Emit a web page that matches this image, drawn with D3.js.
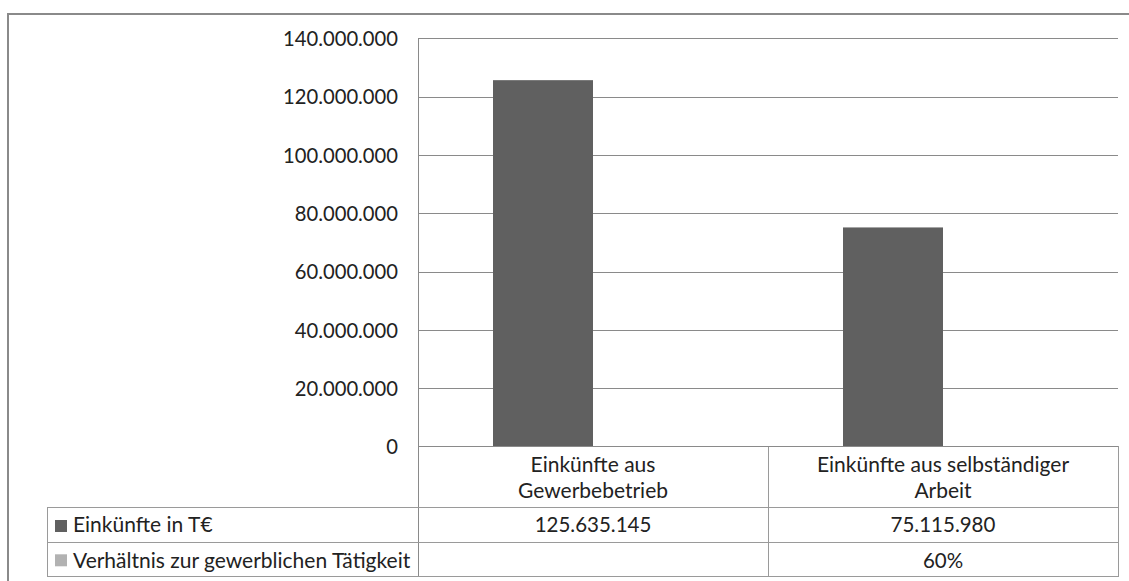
<!DOCTYPE html>
<html>
<head>
<meta charset="utf-8">
<script src="https://cdn.jsdelivr.net/npm/d3@7"></script>
<style>
  html, body { margin: 0; padding: 0; background: #fff; }
  svg { display: block; }
  text { font-family: Lato, "Open Sans", sans-serif; fill: #222; }
</style>
</head>
<body>
<svg id="chart" width="1129" height="581"></svg>
<script>
// Categories (multi-line labels) and series
const categories = ["Einkünfte aus Gewerbebetrieb", "Einkünfte aus selbständiger Arbeit"];
const categoryLines = [["Einkünfte aus", "Gewerbebetrieb"], ["Einkünfte aus selbständiger", "Arbeit"]];
const seriesNames = ["Einkünfte in T€", "Verhältnis zur gewerblichen Tätigkeit"];
const einkuenfte = [125635145, 75115980];
const verhaeltnis = [null, 0.6];
const yTicks = [0, 20000000, 40000000, 60000000, 80000000, 100000000, 120000000, 140000000];
const seriesColors = ["#606060", "#b2b2b2"];

const de = d3.formatLocale({ decimal: ",", thousands: ".", grouping: [3], currency: ["", " €"] });
const fmtNum = de.format(",.0f");
const fmtPct = de.format(".0%");

const svg = d3.select("#chart");

const plot = { left: 418, right: 1118, top: 38.3, bottom: 446.4 };
const table = { left: 47, catBottom: 507, row1Bottom: 542.7, row2Bottom: 576.7 };
const gridColor = "#8a8a8a";
const tableColor = "#9a9a9a";
const labelSize = 21;
const numberSize = 20.5;

const x0 = d3.scaleBand().domain(categories).range([plot.left, plot.right]).padding(0);
const x1 = d3.scaleBand().domain([0, 1]).range([0, x0.bandwidth()]).paddingInner(0).paddingOuter(0.75);
const y = d3.scaleLinear().domain([0, 140000000]).range([plot.bottom, plot.top]);

// outer chart frame (continues past the right and bottom edges)
svg.append("path")
  .attr("d", `M8,590V14H1140`)
  .attr("fill", "none")
  .attr("stroke", "#8a8a8a")
  .attr("stroke-width", 2);

// horizontal gridlines + value axis labels
const yAxis = d3.axisLeft(y).tickValues(yTicks).tickFormat(fmtNum)
  .tickSize(-(plot.right - plot.left)).tickPadding(20);
const gy = svg.append("g").attr("transform", `translate(${plot.left},0)`).call(yAxis);
gy.select(".domain").remove();
gy.selectAll(".tick line").attr("stroke", gridColor).attr("stroke-width", 1)
  .attr("shape-rendering", "crispEdges");
gy.selectAll(".tick text").attr("font-size", 20.2).attr("fill", "#222")
  .attr("font-family", "Lato, sans-serif").attr("dy", "0.36em");

// bars
const seriesData = [einkuenfte, verhaeltnis];
seriesData.forEach((vals, si) => {
  svg.append("g").selectAll("rect")
    .data(categories.map((c, i) => ({ c, v: vals[i] })).filter(d => d.v != null))
    .join("rect")
    .attr("x", d => x0(d.c) + x1(si))
    .attr("width", x1.bandwidth())
    .attr("y", d => y(d.v))
    .attr("height", d => y(0) - y(d.v))
    .attr("fill", seriesColors[si]);
});

// data table grid
const g = svg.append("g").attr("stroke", tableColor).attr("stroke-width", 1).attr("shape-rendering", "crispEdges");
// vertical value-axis line runs through the table
g.append("line").attr("x1", plot.left).attr("x2", plot.left).attr("y1", plot.top).attr("y2", table.row2Bottom).attr("stroke", gridColor);
// category divider and right edge
categories.forEach(c => {
  const xr = x0(c) + x0.bandwidth();
  g.append("line").attr("x1", xr).attr("x2", xr).attr("y1", plot.bottom).attr("y2", table.row2Bottom);
});
// left edge of row headers
g.append("line").attr("x1", table.left).attr("x2", table.left).attr("y1", table.catBottom).attr("y2", table.row2Bottom);
[table.catBottom, table.row1Bottom, table.row2Bottom].forEach(yy => {
  g.append("line").attr("x1", table.left).attr("x2", plot.right).attr("y1", yy).attr("y2", yy);
});
g.append("line").attr("x1", plot.left).attr("x2", plot.right).attr("y1", plot.bottom).attr("y2", plot.bottom).attr("stroke", gridColor);

// category labels
categories.forEach((c, i) => {
  const t = svg.append("text")
    .attr("x", x0(c) + x0.bandwidth() / 2)
    .attr("text-anchor", "middle")
    .attr("font-size", labelSize);
  categoryLines[i].forEach((line, li) => {
    t.append("tspan").attr("x", x0(c) + x0.bandwidth() / 2).attr("y", 471.7 + li * 26.6).text(line);
  });
});

// row headers with legend keys
const rowBaselines = [532.3, 567.7];
const rowTops = [520, 554.3];
seriesNames.forEach((name, si) => {
  svg.append("rect").attr("x", 55).attr("y", rowTops[si]).attr("width", 12).attr("height", 12)
    .attr("fill", seriesColors[si]);
  svg.append("text").attr("x", 73).attr("y", rowBaselines[si]).attr("font-size", labelSize).text(name);
});

// table values
seriesData.forEach((vals, si) => {
  categories.forEach((c, i) => {
    if (vals[i] == null) return;
    svg.append("text")
      .attr("x", x0(c) + x0.bandwidth() / 2)
      .attr("y", rowBaselines[si])
      .attr("text-anchor", "middle")
      .attr("font-size", numberSize)
      .text(si === 0 ? fmtNum(vals[i]) : fmtPct(vals[i]));
  });
});
</script>
</body>
</html>
